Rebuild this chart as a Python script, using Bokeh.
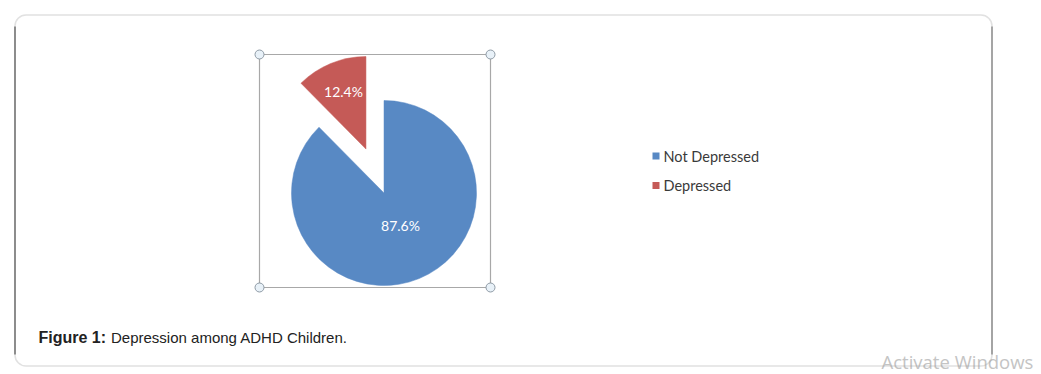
import math
from bokeh.plotting import figure
from bokeh.models import Range1d, BoxAnnotation
from bokeh.core.properties import value
from bokeh.embed import file_html
from bokeh.resources import INLINE

# ---- data ----
categories = ["Not Depressed", "Depressed"]
percentages = [87.6, 12.4]
colors = ["#5889C4", "#C55A57"]
caption_bold = "Figure 1:"
caption_text = "Depression among ADHD Children."

W, H = 1041, 374
p = figure(width=W, height=H, output_backend="svg", toolbar_location=None,
           x_range=Range1d(0, W), y_range=Range1d(0, H),
           min_border=0, min_border_left=0, min_border_right=0,
           min_border_top=0, min_border_bottom=0)
p.axis.visible = False
p.grid.visible = False
p.outline_line_color = None
p.background_fill_color = "white"
p.border_fill_color = "white"

def Y(sy):
    return H - sy

# outer rounded box
p.add_layout(BoxAnnotation(left=14.5, right=991.5, top=Y(14.5), bottom=Y(365.5),
                           fill_color=None, line_color="#9a9a9a", line_width=1.5,
                           border_radius=11))
p.segment(x0=[14.5], y0=[Y(26)], x1=[14.5], y1=[Y(354)], line_color="#3a3a3a", line_width=1.2)
p.segment(x0=[991.5], y0=[Y(26)], x1=[991.5], y1=[Y(354)], line_color="#6e6e6e", line_width=1.2)

# selection frame
fx0, fx1, fy0, fy1 = 259, 490, 54, 287
p.quad(left=[fx0], right=[fx1], top=[Y(fy0)], bottom=[Y(fy1)],
       fill_color=None, line_color="#a8a8a8", line_width=1.2)
p.scatter(x=[fx0, fx1, fx0, fx1], y=[Y(fy0), Y(fy0), Y(fy1), Y(fy1)], size=9,
          fill_color="#e8f1f8", line_color="#8e9aa5", line_width=1)

# pie
cx, cy, r = 383.5, Y(192.5), 92.5
explode = [0, 47.5]
start = math.pi / 2
total = sum(percentages)
label_pos = [(400, 225), (343, 90.5)]
for i, (cat, pct, col) in enumerate(zip(categories, percentages, colors)):
    sweep = 2 * math.pi * pct / total
    end = start - sweep
    mid = (start + end) / 2
    ox = cx + explode[i] * math.cos(mid)
    oy = cy + explode[i] * math.sin(mid)
    p.wedge(x=[ox], y=[oy], radius=r, radius_units="screen",
            start_angle=end, end_angle=start, fill_color=col, line_color=col,
            line_width=0.5)
    lx, ly = label_pos[i]
    p.text(x=[lx], y=[Y(ly)], text=[f"{pct:.1f}%"], text_color="white",
           text_font=value("Lato"), text_font_size="14px",
           text_align="center", text_baseline="middle")
    start = end

# legend
for i, (cat, col) in enumerate(zip(categories, colors)):
    ly = 155.5 + 29.5 * i
    p.scatter(x=[655.5], y=[Y(ly)], marker="square", size=7, fill_color=col, line_color=None)
    p.text(x=[663], y=[Y(ly)], text=[cat], text_color="#3a3a3a",
           text_font=value("Lato"), text_font_size="14.5px",
           text_align="left", text_baseline="middle")

# caption
p.text(x=[38], y=[Y(337)], text=[caption_bold], text_color="#222222",
       text_font=value("Liberation Sans"), text_font_style="bold", text_font_size="16px",
       text_align="left", text_baseline="alphabetic")
p.text(x=[110.5], y=[Y(337)], text=[caption_text], text_color="#222222",
       text_font=value("Liberation Sans"), text_font_size="15px",
       text_align="left", text_baseline="alphabetic")

# watermark
p.text(x=[881], y=[Y(361)], text=["Activate Windows"], text_color="#c4c4c4",
       text_font=value("Open Sans"), text_font_size="18.5px",
       text_align="left", text_baseline="alphabetic")

open("out.html", "w").write(file_html(p, INLINE))
